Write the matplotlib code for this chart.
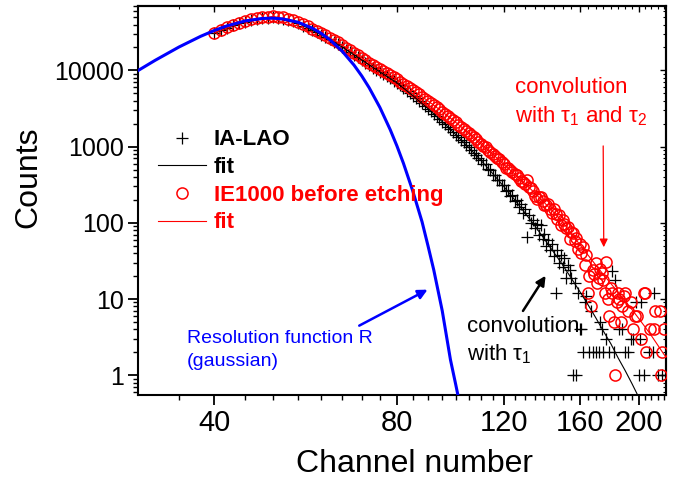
import numpy as np
import matplotlib
matplotlib.use("Agg")
import matplotlib.pyplot as plt
from matplotlib.ticker import FixedLocator, FixedFormatter, NullFormatter, LogLocator

plt.rcParams["font.family"] = "Liberation Sans"
plt.rcParams["mathtext.fontset"] = "custom"
plt.rcParams["mathtext.rm"] = "Liberation Sans"
plt.rcParams["mathtext.it"] = "Liberation Sans"
plt.rcParams["mathtext.bf"] = "Liberation Sans:bold"

# IA-LAO counts, channels 40..150 then scattered tail
la_main = [30500, 33400, 36100, 39100, 41400, 43800, 45800, 47300, 48600, 49400,
           49700, 49200, 47900, 46300, 44500, 41700, 38800, 36200, 33800, 31500,
           29400, 27400, 25600, 23900, 22100, 20300, 18800, 17300, 16100, 14800,
           13700, 12600, 11700, 10900, 10200, 9550, 8950, 8370, 7850, 7350,
           6870, 6350, 5870, 5430, 5020, 4650, 4300, 3970, 3680, 3400,
           3150, 2910, 2690, 2490, 2300, 2130, 1970, 1820, 1690, 1560,
           1440, 1330, 1230, 1140, 1050, 975, 903, 835, 773, 714,
           670, 600, 590, 505, 500, 430, 425, 370, 365, 310,
           315, 265, 270, 225, 230, 195, 200, 160, 175, 135,
           150, 66, 125, 100, 108, 85, 96, 70, 93, 62,
           72, 50, 60, 44, 52, 37, 12, 44, 30, 38, 26]
la_tail_ch = [151, 152, 153, 154, 155, 156, 157, 158, 159, 160, 161, 162, 163, 164,
              166, 167, 168, 170, 172, 173, 174, 175, 177, 179, 181, 182, 183, 186,
              188, 190, 192, 194, 196, 198, 200, 201, 202, 204, 208, 211, 212, 215, 219]
la_tail = [35, 19, 28, 24, 19, 1, 16, 1, 12, 4, 4, 2, 9, 11,
           2, 7, 2, 2, 2, 5, 4, 2, 3, 2, 23, 2, 18, 4,
           4, 2, 2, 3, 3, 9, 1, 3, 9, 1, 2, 2, 12, 1, 1]

# IE1000 before etching counts, channels 40..150 then scattered tail
ie_main = [30900, 33900, 36700, 39800, 42200, 44700, 46800, 48400, 49800, 50700,
           51100, 50700, 49500, 47900, 46200, 43300, 40400, 37800, 35300, 33000,
           30800, 28800, 26900, 25200, 23300, 21500, 19900, 18400, 17100, 15800,
           14600, 13500, 12600, 11800, 11100, 10400, 9790, 9180, 8630, 8110,
           7600, 7140, 6700, 6280, 5890, 5510, 5160, 4840, 4540, 4250,
           3980, 3730, 3500, 3280, 3080, 2880, 2700, 2530, 2370, 2220,
           2080, 1950, 1830, 1710, 1610, 1510, 1410, 1320, 1240, 1160,
           1090, 1020, 990, 904, 849, 798, 750, 705, 690, 622,
           585, 520, 519, 490, 462, 437, 430, 388, 350, 346,
           327, 360, 291, 290, 259, 225, 205, 218, 220, 194,
           170, 173, 175, 154, 135, 150, 130, 112, 125, 94, 110]
ie_tail_ch = [151, 152, 153, 154, 155, 156, 157, 158, 159, 160, 161, 162, 163, 164,
              165, 166, 167, 168, 169, 170, 171, 172, 173, 174, 175, 176, 177, 178,
              179, 180, 181, 182, 183, 184, 185, 186, 187, 188, 189, 190, 192, 194,
              196, 197, 199, 202, 204, 205, 206, 209, 212, 213, 217, 218, 219, 220]
ie_tail = [96, 85, 88, 62, 75, 73, 58, 63, 45, 52, 40, 48, 28, 38,
           12, 20, 8, 24, 21, 30, 16, 19, 25, 22, 18, 12, 31, 10,
           6, 14, 12, 5, 1, 9, 12, 10, 5, 8, 11, 12, 7, 9,
           4, 6, 6, 3, 12, 12, 2, 4, 4, 7, 7, 1, 2, 4]

# fitted curves
fit_ch = [40, 45, 50, 55, 60, 65, 70, 75, 80, 85, 90, 95, 100, 105, 110, 115, 120,
          125, 130, 135, 140, 145, 150, 155, 160, 165, 170, 175, 180, 185, 190,
          195, 200, 205, 210, 215, 220, 225]
la_fit = [30500, 43800, 49700, 41700, 29400, 20300, 13700, 9550, 6870, 4650, 3150,
          2130, 1440, 975, 661, 444, 299, 201, 135, 91, 61, 41, 28, 18.7, 12.6,
          8.5, 5.7, 3.8, 2.6, 1.7, 1.16, 0.78, 0.52, 0.35, 0.24, 0.16, 0.11, 0.07]
ie_fit = [30900, 44700, 51100, 43300, 30800, 21500, 14600, 10400, 7600, 5510, 3980,
          2880, 2080, 1510, 1090, 798, 585, 437, 327, 245, 183, 137, 103, 72, 52,
          38, 28, 21, 16, 12.3, 9.4, 7.3, 5.6, 4.3, 3.3, 2.5, 1.9, 1.5]

# resolution function R (gaussian)
gauss_ch = [30, 32, 35, 38, 40, 42, 45, 48, 50, 52, 55, 58, 60, 62, 65, 68, 70,
            72, 75, 78, 80, 82, 85, 88, 90, 92, 95, 98, 100, 102]
gauss = [10000, 13600, 20260, 28000, 33340, 38400, 44600, 48050, 48450, 47260,
         42780, 35930, 30680, 25350, 17880, 11710, 8470, 5930, 3260, 1663, 1020,
         604, 258, 103, 50, 24, 7, 1.6, 0.75, 0.35]

la_ch = list(range(40, 151)) + la_tail_ch
la_counts = la_main + la_tail
ie_ch = list(range(40, 151)) + ie_tail_ch
ie_counts = ie_main + ie_tail

W, H = 690, 482
fig = plt.figure(figsize=(W / 100, H / 100), dpi=100)
ax = fig.add_axes([138.3 / W, 1 - 395 / H, 527.4 / W, 389 / H])

h1, = ax.plot(la_ch, la_counts, "+", color="black", ms=8, mew=0.9, zorder=3)
h3, = ax.plot(ie_ch, ie_counts, "o", mfc="none", mec="red", ms=8, mew=1.1, zorder=3)
h2, = ax.plot(fit_ch, la_fit, "-", color="black", lw=0.8, zorder=4)
h4, = ax.plot(fit_ch, ie_fit, "-", color="red", lw=0.8, zorder=4)
ax.plot(gauss_ch, gauss, "-", color="#0000ff", lw=2.2, zorder=5)

ax.set_xscale("log")
ax.set_yscale("log")
ax.set_xlim(30, 221.7)
ax.set_ylim(0.55, 70000)

xmaj = [40, 80, 120, 160, 200]
xmin = [35] + [v for v in range(45, 221, 5) if v not in xmaj]
ax.xaxis.set_major_locator(FixedLocator(xmaj))
ax.xaxis.set_major_formatter(FixedFormatter([str(v) for v in xmaj]))
ax.xaxis.set_minor_locator(FixedLocator(xmin))
ax.xaxis.set_minor_formatter(NullFormatter())
ymaj = [1, 10, 100, 1000, 10000]
ax.yaxis.set_major_locator(FixedLocator(ymaj))
ax.yaxis.set_major_formatter(FixedFormatter([str(v) for v in ymaj]))
ax.yaxis.set_minor_locator(LogLocator(base=10, subs=np.arange(2, 10), numticks=20))
ax.yaxis.set_minor_formatter(NullFormatter())

for s in ax.spines.values():
    s.set_linewidth(1.5)
ax.tick_params(which="major", direction="out", length=7, width=1.3)
ax.tick_params(which="minor", direction="out", length=3.5, width=1.0)
ax.tick_params(axis="x", which="major", labelsize=21, pad=3)
ax.tick_params(axis="y", which="major", labelsize=18)

# mirrored ticks on top / right, pointing in
top = ax.secondary_xaxis("top")
top.xaxis.set_major_locator(FixedLocator(xmaj))
top.xaxis.set_minor_locator(FixedLocator(xmin))
top.xaxis.set_major_formatter(NullFormatter())
top.xaxis.set_minor_formatter(NullFormatter())
top.tick_params(which="major", direction="in", length=4, width=1.0)
top.tick_params(which="minor", direction="in", length=2.5, width=0.8)
top.spines["top"].set_linewidth(1.5)
right = ax.secondary_yaxis("right")
right.yaxis.set_major_locator(FixedLocator(ymaj))
right.yaxis.set_minor_locator(LogLocator(base=10, subs=np.arange(2, 10), numticks=20))
right.yaxis.set_major_formatter(NullFormatter())
right.yaxis.set_minor_formatter(NullFormatter())
right.tick_params(which="major", direction="in", length=4, width=1.0)
right.tick_params(which="minor", direction="in", length=2.5, width=0.8)
right.spines["right"].set_linewidth(1.5)

fig.text(414 / W, 1 - 464 / H, "Channel number", ha="center", va="center", size=23)
fig.text(28 / W, 1 - 177.5 / H, "Counts", ha="center", va="center", size=23, rotation=90)

leg = ax.legend([h1, h2, h3, h4], ["IA-LAO", "fit", "IE1000 before etching", "fit"],
                loc="upper left", bbox_to_anchor=(0.037, 0.683), frameon=False,
                prop={"weight": "bold", "size": 16}, handlelength=2.15,
                handletextpad=0.36, labelspacing=0.3, borderpad=0, borderaxespad=0)
for t, c in zip(leg.get_texts(), ["black", "black", "red", "red"]):
    t.set_color(c)

# annotations
fig.text(515 / W, 1 - 93 / H, "convolution", color="red", size=16, va="baseline")
fig.text(515 / W, 1 - 122 / H, r"with $\tau_1$ and $\tau_2$", color="red", size=16, va="baseline")
ax.annotate("", xy=(175.3, 44), xytext=(174.9, 1110),
            arrowprops=dict(arrowstyle="-|>", color="red", lw=0.9, mutation_scale=12))

fig.text(467 / W, 1 - 331.7 / H, "convolution", color="black", size=16, va="baseline")
fig.text(467 / W, 1 - 360 / H, r"with $\tau_1$", color="black", size=16, va="baseline")
ax.annotate("", xy=(141.4, 21.7), xytext=(128.3, 6.5),
            arrowprops=dict(arrowstyle="-|>", color="black", lw=1.8, mutation_scale=14))

fig.text(186.7 / W, 1 - 343 / H, "Resolution function R", color="#0000ff", size=14, va="baseline")
fig.text(186.7 / W, 1 - 366 / H, "(gaussian)", color="#0000ff", size=14, va="baseline")
ax.annotate("", xy=(90.7, 13.8), xytext=(68.7, 4.3),
            arrowprops=dict(arrowstyle="-|>", color="#0000ff", lw=1.8, mutation_scale=14))

fig.savefig("out.png", dpi=100)
